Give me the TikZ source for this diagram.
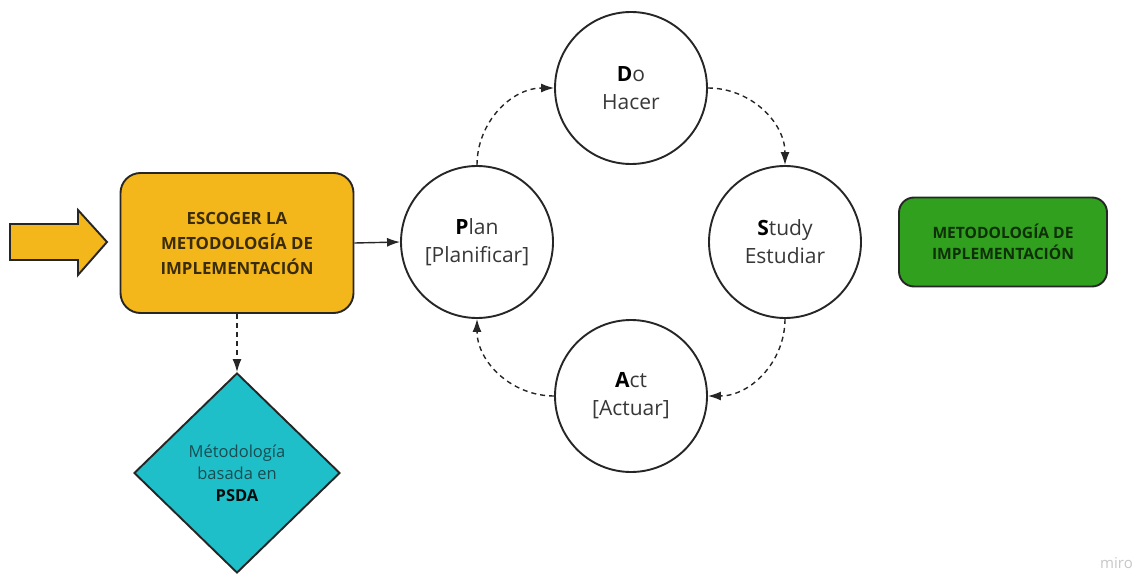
\documentclass[tikz,border=0pt]{standalone}
\usepackage{fontspec}
\setmainfont{Open Sans}
\usetikzlibrary{shapes.geometric,arrows.meta}

\definecolor{boxyellow}{HTML}{F3B61B}
\definecolor{boxgreen}{HTML}{30A01E}
\definecolor{boxteal}{HTML}{1FBFCA}
\definecolor{edgedark}{HTML}{262626}
\definecolor{textbrown}{HTML}{3A2C08}
\definecolor{textgreen}{HTML}{0F2F08}
\definecolor{textteal}{HTML}{1A4C51}
\definecolor{textgray}{HTML}{383838}

\tikzset{
  phase/.style={circle, draw=edgedark, line width=1.9pt, fill=white,
    minimum size=152pt, inner sep=0pt, align=center, text=textgray,
    font=\fontsize{21}{28}\selectfont},
  yellowbox/.style={rectangle, rounded corners=20pt, draw=edgedark, line width=1.9pt,
    fill=boxyellow, minimum width=233pt, minimum height=140pt, align=center,
    text=textbrown, font=\fontsize{16.8}{25}\selectfont\bfseries},
  greenbox/.style={rectangle, rounded corners=15pt, draw=edgedark, line width=1.9pt,
    fill=boxgreen, minimum width=208pt, minimum height=89pt, align=center,
    text=textgreen, font=\fontsize{15.6}{21}\selectfont\bfseries},
  tealdiamond/.style={diamond, draw=edgedark, line width=1.9pt, fill=boxteal,
    minimum width=206pt, minimum height=200pt, inner sep=0pt, align=center,
    text=textteal, font=\fontsize{16.5}{22}\selectfont},
  solidlink/.style={line width=1.4pt, edgedark, -{Latex[length=13pt,width=9pt]}},
  dashlink/.style={line width=1.4pt, edgedark, dash pattern=on 5pt off 4pt,
    -{Latex[length=13pt,width=9pt]}},
}

\begin{document}
\begin{tikzpicture}[x=1pt,y=1pt]
\useasboundingbox (0,0) rectangle (1134,-575);

% incoming block arrow
\draw[edgedark, line width=1.9pt, fill=boxyellow]
  (10,-224) -- (78,-224) -- (78,-210) -- (107,-242) -- (78,-275)
  -- (78,-260) -- (10,-260) -- cycle;

% main boxes
\node[yellowbox] (choose) at (237,-243)
  {ESCOGER LA\\METODOLOGÍA DE\\IMPLEMENTACIÓN};
\node[tealdiamond] (psda) at (237,-473)
  {Métodología\\basada en\\{\color{black!85!textteal}\bfseries PSDA}};
\node[greenbox] (result) at (1003,-242)
  {METODOLOGÍA DE\\IMPLEMENTACIÓN};

% PDSA cycle
\node[phase] (plan)  at (477,-242) {{\color{black}\bfseries P}lan\\{}[Planificar]};
\node[phase] (do)    at (631,-88)  {{\color{black}\bfseries D}o\\Hacer};
\node[phase] (study) at (785,-242) {{\color{black}\bfseries S}tudy\\Estudiar};
\node[phase] (act)   at (631,-396) {{\color{black}\bfseries A}ct\\{}[Actuar]};

% connectors
\draw[solidlink] (choose.east) -- (plan.west);
\draw[dashlink] (choose.south) -- (psda.north);
\draw[dashlink] (plan.north) to[out=90,in=180] (do.west);
\draw[dashlink] (do.east) to[out=0,in=90] (study.north);
\draw[dashlink] (study.south) to[out=-90,in=0] (act.east);
\draw[dashlink] (act.west) to[out=180,in=-90] (plan.south);

% watermark
\node[anchor=west, text=black!22, font=\fontsize{15}{15}\selectfont, inner sep=0pt]
  (mark) at (1100,-563) {miro};
\end{tikzpicture}
\end{document}
